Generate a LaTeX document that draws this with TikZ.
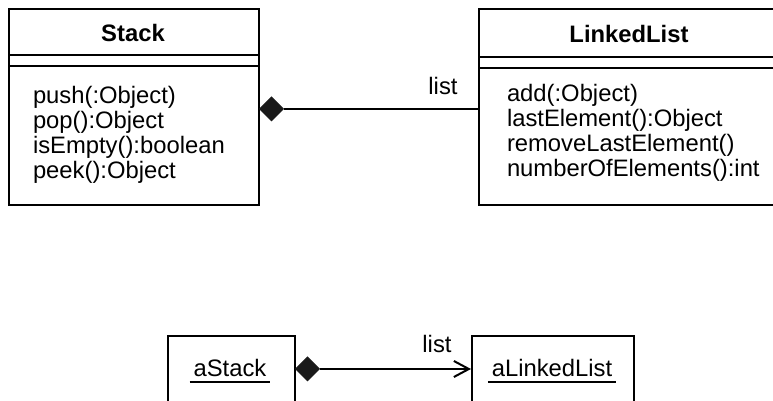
\documentclass[tikz,border=0pt]{standalone}
\usepackage{fontspec}
\setmainfont{Liberation Sans}
\usetikzlibrary{shapes.geometric,arrows.meta}
\begin{document}
\begin{tikzpicture}[x=0.5pt,y=-0.5pt,
  line width=1pt,
  every node/.style={font=\fontsize{11.9pt}{12.5pt}\selectfont, inner sep=0pt},
  umlbox/.style={draw, rectangle, anchor=north west, line width=1pt},
  comp/.style={diamond, fill=black!90, draw=black!90, line width=0.5pt, aspect=1, minimum width=12pt, minimum height=12pt, inner sep=0pt, anchor=west},
  oper/.style={anchor=base west},
  ttl/.style={anchor=base, font=\fontsize{11.9pt}{12.5pt}\selectfont\bfseries},
  objname/.style={anchor=base, inner xsep=1.5pt},
  nav/.style={-{Straight Barb[length=7.5pt,width=8pt,line width=1pt]}}
]
\useasboundingbox (0,0) rectangle (773,401);
\clip (0,0) rectangle (773,401);

% ---- class Stack ----
\node[umlbox, minimum width=125pt, minimum height=98pt] (stackbox) at (8,8) {};
\draw (8,55) -- (258,55);
\draw (8,66) -- (258,66);
\node[ttl] (stackttl) at (133,42) {Stack};
\node[oper] (s1) at (32,104) {push(:Object)};
\node[oper] (s2) at (32,129) {pop():Object};
\node[oper] (s3) at (32,154) {isEmpty():boolean};
\node[oper] (s4) at (32,179) {peek():Object};

% ---- class LinkedList ----
\node[umlbox, minimum width=165pt, minimum height=98pt] (llbox) at (478,8) {};
\draw (478,57) -- (808,57);
\draw (478,68) -- (808,68);
\node[ttl] (llttl) at (629,43) {LinkedList};
\node[oper] (l1) at (506,102) {add(:Object)};
\node[oper] (l2) at (506,127) {lastElement():Object};
\node[oper] (l3) at (506,152) {removeLastElement()};
\node[oper] (l4) at (506,177) {numberOfElements():int};

% ---- composition (classes) ----
\node[comp] (d1) at (259,109) {};
\draw (d1.east) -- (d1.east -| llbox.west);
\node[anchor=base] (lab1) at (443,95) {list};

% ---- objects ----
\node[umlbox, minimum width=63.5pt, minimum height=60pt] (obj1) at (167,335) {};
\node[umlbox, minimum width=81pt, minimum height=60pt] (obj2) at (471,335) {};
\node[objname] (o1) at (230,377) {aStack};
\draw ([yshift=-2.6pt]o1.base west) -- ([yshift=-2.6pt]o1.base east);
\node[objname] (o2) at (552,377) {aLinkedList};
\draw ([yshift=-2.6pt]o2.base west) -- ([yshift=-2.6pt]o2.base east);

% ---- composition (objects) ----
\node[comp] (d2) at (295,369) {};
\draw[nav] (d2.east) -- (d2.east -| obj2.west);
\node[anchor=base] (lab2) at (437,353) {list};
\end{tikzpicture}
\end{document}
